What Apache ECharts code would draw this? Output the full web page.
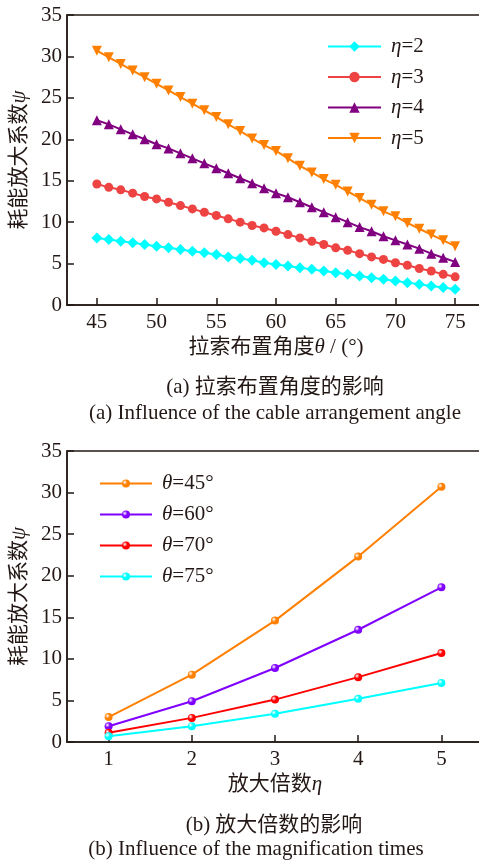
<!DOCTYPE html>
<html><head><meta charset="utf-8">
<script src="https://cdn.jsdelivr.net/npm/echarts@6/dist/echarts.min.js"></script>
<style>html,body{margin:0;padding:0;background:#fff}#c{width:479px;height:865px}</style>
</head><body><div id="c"></div>
<script>
// ---- data (a): influence of cable arrangement angle ----
const angles = [45,46,47,48,49,50,51,52,53,54,55,56,57,58,59,60,61,62,63,64,65,66,67,68,69,70,71,72,73,74,75];
const eta2 = [8.1,7.9,7.7,7.5,7.3,7.1,6.9,6.7,6.5,6.3,6.1,5.8,5.6,5.4,5.1,4.9,4.7,4.5,4.3,4.1,3.9,3.7,3.5,3.3,3.1,2.9,2.7,2.5,2.3,2.1,1.9];
const eta3 = [14.6,14.2,13.9,13.5,13.1,12.8,12.4,12.0,11.6,11.2,10.8,10.4,10.0,9.6,9.3,8.9,8.5,8.1,7.7,7.3,6.9,6.6,6.2,5.8,5.5,5.1,4.8,4.4,4.1,3.7,3.4];
const eta4 = [22.3,21.8,21.2,20.6,20.0,19.4,18.9,18.3,17.7,17.1,16.5,15.9,15.3,14.7,14.1,13.5,13.0,12.4,11.8,11.2,10.6,10.0,9.4,8.9,8.3,7.8,7.3,6.8,6.2,5.7,5.2];
const eta5 = [30.7,29.9,29.1,28.3,27.5,26.7,25.9,25.1,24.3,23.5,22.7,21.8,21.0,20.1,19.3,18.6,17.7,16.8,16.0,15.2,14.5,13.7,12.9,12.1,11.3,10.7,9.9,9.2,8.5,7.8,7.1];
const namesA = ['η=2','η=3','η=4','η=5'];
const xTicksA = [45,50,55,60,65,70,75];
// ---- data (b): influence of magnification ----
const etas = [1,2,3,4,5];
const th45 = [3.0,8.1,14.6,22.3,30.7];
const th60 = [1.9,4.9,8.9,13.5,18.6];
const th70 = [1.1,2.9,5.1,7.8,10.7];
const th75 = [0.7,1.9,3.4,5.2,7.1];
const namesB = ['θ=45°','θ=60°','θ=70°','θ=75°'];
const xTicksB = [1,2,3,4,5];

const FONT = '"Liberation Serif","Times New Roman","Noto Sans CJK SC",serif';
const AX = '#231815';
const FS = 21;
const rich = {
  i:{fontStyle:'italic',fontFamily:FONT,fontSize:FS,color:AX},
  n:{fontFamily:FONT,fontSize:FS,color:AX}
};
function pairs(xs, ys){ return xs.map((x,k)=>[x, ys[k]]); }
function legendFmt(name){ return '{i|' + name.charAt(0) + '}{n|' + name.slice(1) + '}'; }
function sphere(c){
  return {type:'radial',x:0.35,y:0.35,r:0.7,colorStops:[{offset:0,color:'#ffffff'},{offset:0.45,color:c},{offset:1,color:c}]};
}

const chart = echarts.init(document.getElementById('c'), null, {renderer:'canvas'});

function xAxisCfg(grid, min, max, ticks, name){
  return {
    gridIndex:grid, type:'value', min:min, max:max,
    axisLine:{show:true,onZero:false,lineStyle:{color:AX,width:1.5}},
    axisTick:{show:true,inside:true,length:7,customValues:ticks,lineStyle:{color:AX,width:1.5}},
    axisLabel:{customValues:ticks,fontSize:FS,fontFamily:FONT,color:AX,margin:7},
    splitLine:{show:false},
    name:name, nameLocation:'middle', nameGap:32,
    nameTextStyle:{fontSize:FS,fontFamily:FONT,color:AX,rich:rich}
  };
}
function yAxisCfg(grid){
  return {
    gridIndex:grid, type:'value', min:0, max:35, interval:5,
    axisLine:{show:true,onZero:false,lineStyle:{color:AX,width:1.5}},
    axisTick:{show:true,inside:true,length:7,lineStyle:{color:AX,width:1.5}},
    axisLabel:{fontSize:FS,fontFamily:FONT,color:AX,margin:5},
    splitLine:{show:false},
    name:'耗能放大系数{i|ψ}', nameLocation:'middle', nameGap:33,
    nameTextStyle:{fontSize:FS,fontFamily:FONT,color:AX,rich:rich}
  };
}

const colA = ['#00FFFF','#EE4343','#800080','#FF8000'];
const colB = ['#FF8000','#8000FF','#FF0000','#00FFFF'];
const symA = ['diamond','circle','triangle','path://M0,0 L10,0 L5,9 Z'];
const sizeA = [11,9,10,10];
const dataA = [eta2,eta3,eta4,eta5];
const dataB = [th45,th60,th70,th75];

const series = [];
dataA.forEach((ys,k)=>{
  series.push({
    name:namesA[k], type:'line', xAxisIndex:0, yAxisIndex:0,
    data:pairs(angles, ys), symbol:symA[k], symbolSize:sizeA[k], showAllSymbol:true,
    lineStyle:{color:colA[k],width:2}, itemStyle:{color:colA[k]},
    emphasis:{disabled:true}, animation:false, z:2+k
  });
});
dataB.forEach((ys,k)=>{
  series.push({
    name:namesB[k], type:'line', xAxisIndex:1, yAxisIndex:1,
    data:pairs(etas, ys), symbol:'circle', symbolSize:8,
    lineStyle:{color:colB[k],width:2}, itemStyle:{color:sphere(colB[k])},
    emphasis:{disabled:true}, animation:false, z:2+k
  });
});

const legendText = {fontSize:FS,fontFamily:FONT,color:AX,lineHeight:21,rich:rich,padding:[0,0,0,5]};

chart.setOption({
  animation:false,
  backgroundColor:'#ffffff',
  grid:[
    {left:67,top:15,width:418,height:290,show:true,borderColor:AX,borderWidth:1.5,containLabel:false,outerBoundsMode:'none'},
    {left:67,top:451,width:416,height:291,show:true,borderColor:AX,borderWidth:1.5,containLabel:false,outerBoundsMode:'none'}
  ],
  xAxis:[
    xAxisCfg(0,42.5,77.5,xTicksA,'拉索布置角度{i|θ} / (°)'),
    xAxisCfg(1,0.5,5.5,xTicksB,'放大倍数{i|η}')
  ],
  yAxis:[yAxisCfg(0), yAxisCfg(1)],
  legend:[
    {data:namesA, orient:'vertical', left:327, top:36, padding:0, itemWidth:53, itemHeight:13, itemGap:9.5,
     formatter:legendFmt, textStyle:legendText, selectedMode:false},
    {data:namesB, orient:'vertical', left:99, top:473, padding:0, itemWidth:52, itemHeight:10, itemGap:10,
     formatter:legendFmt, textStyle:legendText, selectedMode:false}
  ],
  graphic:[
    {type:'text', x:275, y:387, style:{text:'(a) 拉索布置角度的影响', fontSize:FS, fontFamily:FONT, fill:AX, align:'center', verticalAlign:'middle'}},
    {type:'text', x:275, y:413, style:{text:'(a) Influence of the cable arrangement angle', fontSize:FS, fontFamily:FONT, fill:AX, align:'center', verticalAlign:'middle'}},
    {type:'text', x:274, y:825, style:{text:'(b) 放大倍数的影响', fontSize:FS, fontFamily:FONT, fill:AX, align:'center', verticalAlign:'middle'}},
    {type:'text', x:256, y:849, style:{text:'(b) Influence of the magnification times', fontSize:FS, fontFamily:FONT, fill:AX, align:'center', verticalAlign:'middle'}}
  ],
  series:series
});
</script>
</body></html>
